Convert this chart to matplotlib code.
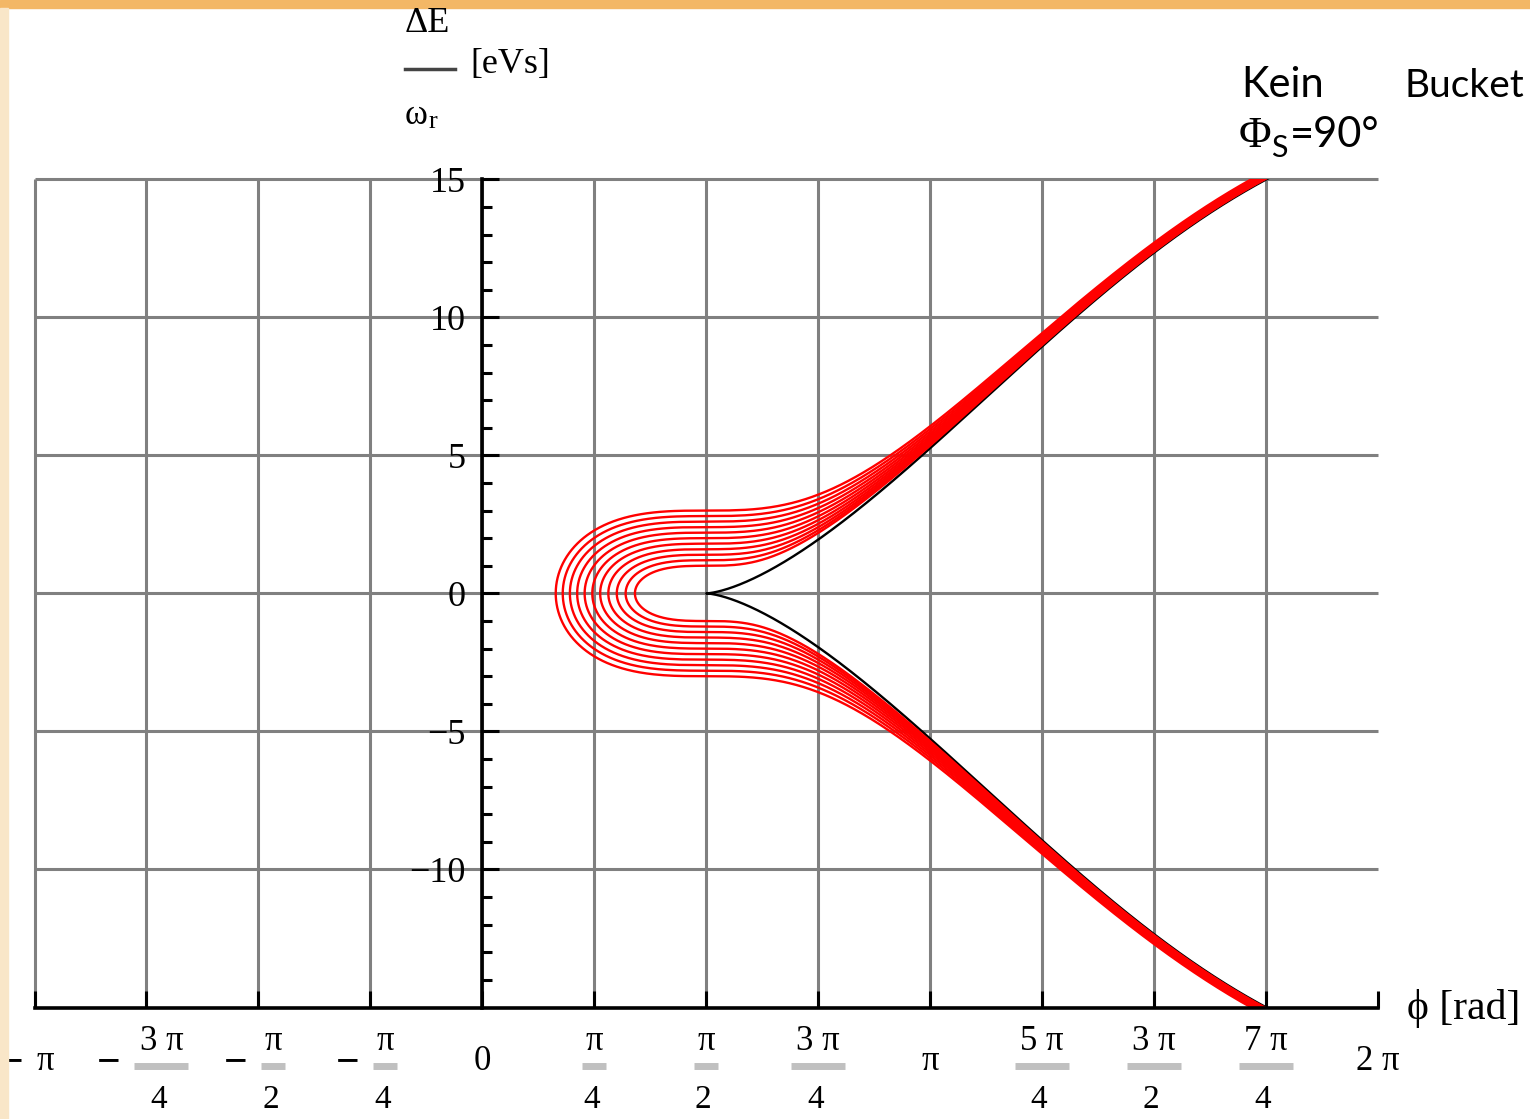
import numpy as np
import matplotlib
matplotlib.use('Agg')
import matplotlib.pyplot as plt
from matplotlib import transforms
from matplotlib.patches import Rectangle
from matplotlib.lines import Line2D

# values
phi_s = np.pi / 2          # synchronous phase, 90 deg
k_scale = 48.5             # dE^2 = k * U(phi) on the separatrix (15 at ~7pi/4)
dE_at_phis = [1.0, 1.2, 1.4, 1.6, 1.8, 2.0, 2.2, 2.4, 2.6, 2.8, 3.0]  # red curves, dE at phi_s
sep_level = [0.0]          # black curve through (pi/2, 0)

quarter = [-4, -3, -2, -1, 0, 1, 2, 3, 4, 5, 6, 7, 8]
xlab_num = ["π", "3 π", "π", "π", "0", "π", "π", "3 π", "π", "5 π", "3 π", "7 π", "2 π"]
xlab_den = [None, "4", "2", "4", None, "4", "2", "4", None, "4", "2", "4", None]
ytick_vals = [-10, -5, 0, 5, 10, 15]
ytick_labels = ["−10", "−5", "0", "5", "10", "15"]
ymin, ymax = -15, 15

serif = ['Liberation Serif', 'DejaVu Serif']
W, H = 1530, 1119

def fy(py):
    return 1 - py / H

fig = plt.figure(figsize=(W / 100, H / 100), dpi=100)
fig.patches.append(Rectangle((0, fy(8)), 1, 8 / H, transform=fig.transFigure,
                             color='#f3b766', zorder=0))
fig.patches.append(Rectangle((0, 0), 8 / W, fy(8), transform=fig.transFigure,
                             color='#f9e6c8', zorder=0))

ax_l, ax_r, ax_t, ax_b = 34.5, 1378, 179.3, 1007.5
ax = fig.add_axes([ax_l / W, fy(ax_b), (ax_r - ax_l) / W, (ax_b - ax_t) / H])
ax.set_facecolor('none')
xt = np.array(quarter) * np.pi / 4
ax.set_xlim(xt[0], xt[-1])
ax.set_ylim(ymin, ymax)

# grid
ax.vlines(xt[:-1], ymin, ymax, color='#808080', lw=2.2, zorder=1, clip_on=False)
ax.hlines(ytick_vals, xt[0], xt[-1], color='#808080', lw=2.2, zorder=1, clip_on=False)

# phase space curves
phi_grid = np.linspace(-np.pi, 2 * np.pi, 40001)
U = np.cos(phi_grid) - np.cos(phi_s) + (phi_grid - phi_s) * np.sin(phi_s)
dE = np.linspace(-15.6, 15.6, 3001)
for c in sep_level:
    phi = np.interp((dE**2 - c**2) / k_scale, U, phi_grid)
    ax.plot(phi, dE, color='black', lw=1.7, zorder=2.8)
for c in dE_at_phis:
    phi = np.interp((dE**2 - c**2) / k_scale, U, phi_grid)
    ax.plot(phi, dE, color='#ff0000', lw=1.7, zorder=3)

# axes
for s in ['top', 'right']:
    ax.spines[s].set_visible(False)
ax.spines['left'].set_position(('data', 0))
ax.spines['left'].set_linewidth(2.6)
ax.spines['bottom'].set_linewidth(2.6)
ax.spines['left'].set_zorder(4)
ax.spines['bottom'].set_zorder(4)

ax.set_xticks(xt)
ax.tick_params(axis='x', direction='in', length=12, width=2.2, labelbottom=False)
ax.set_yticks(ytick_vals)
ax.set_yticklabels(ytick_labels, family=serif, fontsize=26)
ax.set_yticks([v for v in range(-14, 15) if v % 5 != 0], minor=True)
ax.tick_params(axis='y', which='major', direction='in', length=12, width=2.2, pad=12)
ax.tick_params(axis='y', which='minor', direction='in', length=7.5, width=2.2)

# fraction style x labels
px = (xt[-1] - xt[0]) / (ax_r - ax_l)
trans = transforms.blended_transform_factory(ax.transData, fig.transFigure)
for q, num, den in zip(quarter, xlab_num, xlab_den):
    x = q * np.pi / 4
    hw = 27 if len(num) > 1 else 12
    if q < 0:
        xc = x + (15 if den else 11) * px
    else:
        xc = x
    if den is None:
        ax.text(xc, fy(1062), num, transform=trans, ha='center', va='center',
                family=serif, fontsize=25, clip_on=False)
        hw = 8
    else:
        ax.text(xc, fy(1041), num, transform=trans, ha='center', va='center',
                family=serif, fontsize=25, clip_on=False)
        ax.plot([xc - hw * px, xc + hw * px], [fy(1066)] * 2, transform=trans,
                color='#c0c0c0', lw=5, solid_capstyle='butt', clip_on=False)
        ax.text(xc - 3 * px, fy(1100), den, transform=trans, ha='center', va='center',
                family=serif, fontsize=24, clip_on=False)
    if q < 0:
        ax.text(xc - (hw + 26) * px, fy(1063), "−", transform=trans, ha='center',
                va='center', family=serif, fontsize=30, fontweight='bold', clip_on=False)

# axis titles
fig.text(405 / W, fy(24), "ΔE", family=serif, fontsize=26, va='center', ha='left')
fig.add_artist(Line2D([405 / W, 455 / W], [fy(69)] * 2, color='#444444', lw=2.5))
fig.text(470 / W, fy(65), "[eVs]", family=serif, fontsize=26, va='center', ha='left')
fig.text(405 / W, fy(116), "ω", family=serif, fontsize=25, va='center', ha='left')
fig.text(429 / W, fy(122), "r", family=serif, fontsize=19, va='center', ha='left')
fig.text(1407 / W, fy(1008), "ϕ [rad]", family=serif, fontsize=30, va='center', ha='left')

# annotation
fig.text(1241 / W, fy(97), "Kein", family='Lato', fontsize=30, va='baseline')
fig.text(1404 / W, fy(97), "Bucket", family='Lato', fontsize=28, va='baseline')
fig.text(1239 / W, fy(147), "Φ", family=serif, fontsize=32, va='baseline')
fig.text(1271 / W, fy(157), "S", family='Lato', fontsize=22, va='baseline')
fig.text(1290 / W, fy(147), "=90°", family='Lato', fontsize=30, va='baseline')

fig.savefig('out.png', dpi=100)
